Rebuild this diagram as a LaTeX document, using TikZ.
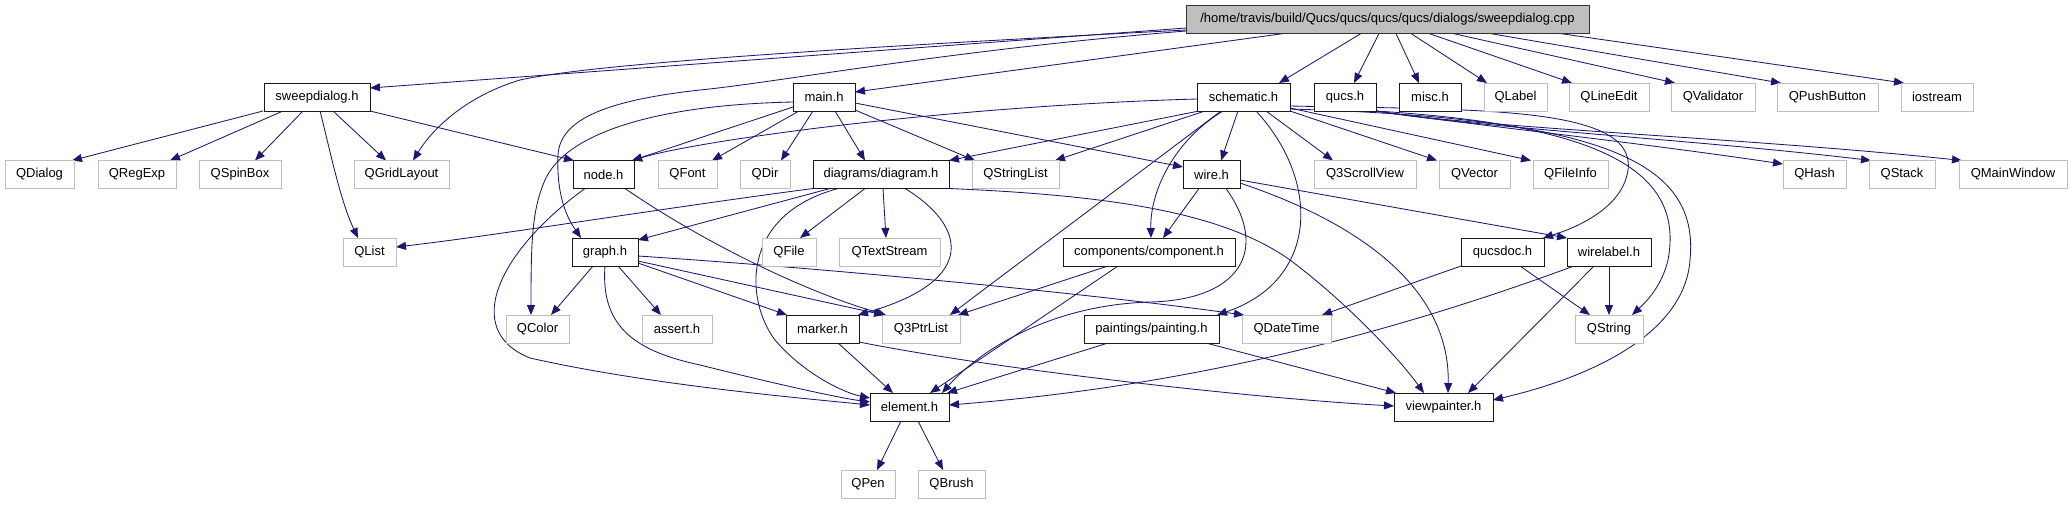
\documentclass[tikz,border=0pt]{standalone}
\usepackage{fontspec}
\setmainfont{Liberation Sans}
\usetikzlibrary{arrows.meta}
\definecolor{edgec}{HTML}{191970}
\definecolor{gborder}{HTML}{BFBFBF}
\definecolor{rootfill}{HTML}{BFBFBF}
\pgfdeclarelayer{bg}
\pgfsetlayers{bg,main}
\tikzset{
 box/.style={rectangle, inner sep=0pt, outer sep=0pt, minimum height=28pt, font=\fontsize{13}{15}\selectfont, text=black},
 hb/.style={box, draw=black!90, fill=white, line width=0.85pt},
 gb/.style={box, draw=gborder, fill=white, line width=0.95pt},
 rb/.style={box, draw=black!80, fill=rootfill, line width=0.85pt},
 e/.style={draw=edgec, line width=0.85pt, -{Triangle[length=10pt,width=8pt]}},
}
\begin{document}
\begin{tikzpicture}[x=1pt,y=-1pt]
\useasboundingbox (0,0) rectangle (2072,504);
% row 0
\node[rb, minimum width=403pt] (root) at (1387.5,19.5) {/home/travis/build/Qucs/qucs/qucs/qucs/dialogs/sweepdialog.cpp};
% row 1
\node[hb, minimum width=106pt] (sweep) at (317,97) {sweepdialog.h};
\node[hb, minimum width=62pt] (mainh) at (824,97) {main.h};
\node[hb, minimum width=93pt] (schem) at (1243.5,97) {schematic.h};
\node[hb, minimum width=62pt] (qucsh) at (1345,97) {qucs.h};
\node[hb, minimum width=62pt] (misch) at (1430,97) {misc.h};
\node[gb, minimum width=63pt] (QLabel) at (1515.5,97) {QLabel};
\node[gb, minimum width=80pt] (QLineEdit) at (1609,97) {QLineEdit};
\node[gb, minimum width=84pt] (QValidator) at (1713,97) {QValidator};
\node[gb, minimum width=101pt] (QPushButton) at (1827.5,97) {QPushButton};
\node[gb, minimum width=72pt] (iostream) at (1937,97) {iostream};
% row 2
\node[gb, minimum width=69pt] (QDialog) at (39.5,174.5) {QDialog};
\node[gb, minimum width=78pt] (QRegExp) at (137,174.5) {QRegExp};
\node[gb, minimum width=82pt] (QSpinBox) at (240,174.5) {QSpinBox};
\node[gb, minimum width=95pt] (QGridLayout) at (401.5,174.5) {QGridLayout};
\node[hb, minimum width=61pt] (nodeh) at (603.5,174.5) {node.h};
\node[gb, minimum width=59pt] (QFont) at (687.5,174.5) {QFont};
\node[gb, minimum width=50pt] (QDir) at (765,174.5) {QDir};
\node[hb, minimum width=136pt] (diagram) at (881,174.5) {diagrams/diagram.h};
\node[gb, minimum width=87pt] (QStringList) at (1015.5,174.5) {QStringList};
\node[hb, minimum width=57pt] (wireh) at (1211.5,174.5) {wire.h};
\node[gb, minimum width=102pt] (Q3ScrollView) at (1365,174.5) {Q3ScrollView};
\node[gb, minimum width=71pt] (QVector) at (1474.5,174.5) {QVector};
\node[gb, minimum width=75pt] (QFileInfo) at (1570.5,174.5) {QFileInfo};
\node[gb, minimum width=63pt] (QHash) at (1814.5,174.5) {QHash};
\node[gb, minimum width=66pt] (QStack) at (1902,174.5) {QStack};
\node[gb, minimum width=108pt] (QMainWindow) at (2013,174.5) {QMainWindow};
% row 3
\node[gb, minimum width=53pt] (QList) at (369.5,252) {QList};
\node[hb, minimum width=66pt] (graphh) at (605,252) {graph.h};
\node[gb, minimum width=54pt] (QFile) at (789,252) {QFile};
\node[gb, minimum width=101pt] (QTextStream) at (889.5,252) {QTextStream};
\node[hb, minimum width=172pt] (component) at (1149,252) {components/component.h};
\node[hb, minimum width=83pt] (qucsdoc) at (1502.5,252) {qucsdoc.h};
\node[hb, minimum width=84pt] (wirelabel) at (1609,252) {wirelabel.h};
% row 4
\node[gb, minimum width=63pt] (QColor) at (537.5,329) {QColor};
\node[gb, minimum width=70pt] (asserth) at (677,329) {assert.h};
\node[hb, minimum width=73pt] (markerh) at (822.5,329) {marker.h};
\node[gb, minimum width=78pt] (Q3PtrList) at (921,329) {Q3PtrList};
\node[hb, minimum width=135pt] (painting) at (1151.5,329) {paintings/painting.h};
\node[gb, minimum width=89pt] (QDateTime) at (1286.5,329) {QDateTime};
\node[gb, minimum width=68pt] (QString) at (1609,329) {QString};
% row 5
\node[hb, minimum width=79pt] (element) at (909.5,407) {element.h};
\node[hb, minimum width=99pt] (viewpainter) at (1443.5,407) {viewpainter.h};
% row 6
\node[gb, minimum width=54pt] (QPen) at (868,484) {QPen};
\node[gb, minimum width=67pt] (QBrush) at (951.5,484) {QBrush};

\begin{pgfonlayer}{bg}
% root
\draw[e] (root.west |- 0,28) -- (sweep.east |- 0,88);
\draw[e] (root.west |- 0,30) .. controls (900,45) and (600,62) .. (520,80) .. controls (470,95) and (435,125) .. (413,0 |- QGridLayout.north);
\draw[e] (1284,0 |- root.south) -- (mainh.east |- 0,92);
\draw[e] (root.west |- 0,31) .. controls (950,50) and (780,82) .. (700,90) .. controls (610,100) and (560,118) .. (558,155) .. controls (556,200) and (570,222) .. (581,0 |- graphh.north);
\draw[e] (1361,0 |- root.south) -- (1279,0 |- schem.north);
\draw[e] (1379,0 |- root.south) -- (1354,0 |- qucsh.north);
\draw[e] (1396,0 |- root.south) -- (1419,0 |- misch.north);
\draw[e] (1411,0 |- root.south) -- (1487,0 |- QLabel.north);
\draw[e] (1429,0 |- root.south) -- (1572,0 |- QLineEdit.north);
\draw[e] (1453,0 |- root.south) -- (1675,0 |- QValidator.north);
\draw[e] (1490,0 |- root.south) -- (1781,0 |- QPushButton.north);
\draw[e] (1560,0 |- root.south) -- (1904,0 |- iostream.north);
% sweepdialog.h
\draw[e] (263,0 |- sweep.south) -- (72,0 |- QDialog.north);
\draw[e] (283,0 |- sweep.south) -- (170,0 |- QRegExp.north);
\draw[e] (303,0 |- sweep.south) -- (255,0 |- QSpinBox.north);
\draw[e] (320,0 |- sweep.south) .. controls (330,150) and (340,200) .. (358,0 |- QList.north);
\draw[e] (333,0 |- sweep.south) -- (386,0 |- QGridLayout.north);
\draw[e] (370,0 |- sweep.south) -- (574,0 |- nodeh.north);
% main.h
\draw[e] (mainh.west |- 0,107) -- (632,0 |- nodeh.north);
\draw[e] (799,0 |- mainh.south) -- (712,0 |- QFont.north);
\draw[e] (813,0 |- mainh.south) -- (781,0 |- QDir.north);
\draw[e] (835,0 |- mainh.south) -- (865,0 |- diagram.north);
\draw[e] (mainh.east |- 0,110) -- (975,0 |- QStringList.north);
\draw[e] (mainh.east |- 0,103) -- (wireh.west |- 0,167);
\draw[e] (mainh.west |- 0,102) .. controls (650,105) and (565,135) .. (545,180) .. controls (532,210) and (531,240) .. (531,0 |- QColor.north);
% schematic.h
\draw[e] (schem.west |- 0,99) .. controls (950,106) and (700,140) .. (632,0 |- nodeh.north);
\draw[e] (1199,0 |- schem.south) -- (949,0 |- diagram.north);
\draw[e] (1205,0 |- schem.south) -- (1055,0 |- QStringList.north);
\draw[e] (1238,0 |- schem.south) -- (1221,0 |- wireh.north);
\draw[e] (1266,0 |- schem.south) -- (1333,0 |- Q3ScrollView.north);
\draw[e] (schem.south east) -- (1437,0 |- QVector.north);
\draw[e] (schem.east |- 0,108) -- (1531,0 |- QFileInfo.north);
\draw[e] (1223,0 |- schem.south) .. controls (1175,140) and (1150,190) .. (1151,0 |- component.north);
\draw[e] (1256,0 |- schem.south) .. controls (1320,180) and (1320,280) .. (1217,0 |- painting.north);
\draw[e] (1221,0 |- schem.south) -- (950,0 |- Q3PtrList.north);
\draw[e] (schem.east |- 0,106) .. controls (1480,110) and (1645,105) .. (1627,175) .. controls (1620,205) and (1585,225) .. (1543,0 |- qucsdoc.north);
\draw[e] (schem.east |- 0,109) .. controls (1600,118) and (1700,160) .. (1690,260) .. controls (1685,330) and (1600,375) .. (viewpainter.east |- 0,400);
% qucs.h
\draw[e] (qucsh.south east) .. controls (1600,125) and (1685,170) .. (1668,260) .. controls (1662,285) and (1648,300) .. (1632,0 |- QString.north);
\draw[e] (qucsh.south east) .. controls (1480,126) and (1620,140) .. (QHash.west |- 0,164);
\draw[e] (qucsh.south east) .. controls (1480,128) and (1700,140) .. (1871,0 |- QStack.north);
\draw[e] (qucsh.south east) .. controls (1480,128) and (1750,138) .. (1962,0 |- QMainWindow.north);
% wire.h
\draw[e] (1199,0 |- wireh.south) -- (1163,0 |- component.north);
\draw[e] (1226,0 |- wireh.south) .. controls (1270,250) and (1240,300) .. (1150,302) .. controls (1050,305) and (980,350) .. (942,0 |- element.north);
\draw[e] (wireh.east |- 0,183) .. controls (1380,230) and (1450,300) .. (1448,0 |- viewpainter.north);
\draw[e] (wireh.east |- 0,180) -- (wirelabel.north west);
% diagrams/diagram.h
\draw[e] (diagram.south west) .. controls (650,210) and (500,235) .. (QList.east |- 0,247);
\draw[e] (830,0 |- diagram.south) -- (graphh.east |- 0,240);
\draw[e] (865,0 |- diagram.south) -- (800,0 |- QFile.north);
\draw[e] (883,0 |- diagram.south) -- (886,0 |- QTextStream.north);
\draw[e] (905,0 |- diagram.south) .. controls (965,225) and (980,280) .. (858,0 |- markerh.north);
\draw[e] (838,0 |- diagram.south) .. controls (740,215) and (745,300) .. (775,340) .. controls (805,375) and (845,393) .. (element.west |- 0,398);
\draw[e] (diagram.south east) .. controls (1100,195) and (1220,210) .. (1290,260) .. controls (1350,305) and (1400,360) .. (1424,0 |- viewpainter.north);
% node.h
\draw[e] (625,0 |- nodeh.south) .. controls (700,240) and (800,290) .. (886,0 |- Q3PtrList.north);
\draw[e] (585,0 |- nodeh.south) .. controls (500,250) and (460,330) .. (530,358) .. controls (650,385) and (800,398) .. (element.west |- 0,405);
% graph.h
\draw[e] (593,0 |- graphh.south) -- (551,0 |- QColor.north);
\draw[e] (618,0 |- graphh.south) -- (661,0 |- asserth.north);
\draw[e] (graphh.east |- 0,263) -- (787,0 |- markerh.north);
\draw[e] (graphh.east |- 0,261) -- (884,0 |- Q3PtrList.north);
\draw[e] (605,0 |- graphh.south) .. controls (600,330) and (640,352) .. (700,365) .. controls (780,385) and (840,398) .. (element.west |- 0,402);
\draw[e] (graphh.east |- 0,256) .. controls (850,270) and (1100,295) .. (1244,0 |- QDateTime.north);
% marker.h
\draw[e] (838,0 |- markerh.south) -- (893,0 |- element.north);
\draw[e] (markerh.east |- 0,342) .. controls (1000,370) and (1250,398) .. (viewpainter.west |- 0,406);
% component.h
\draw[e] (1108,0 |- component.south) -- (958,0 |- Q3PtrList.north);
\draw[e] (1118,0 |- component.south) -- (930,0 |- element.north);
% painting.h
\draw[e] (1108,0 |- painting.south) -- (947,0 |- element.north);
\draw[e] (1206,0 |- painting.south) -- (1396,0 |- viewpainter.north);
% wirelabel.h
\draw[e] (1574,0 |- wirelabel.south) .. controls (1400,330) and (1200,385) .. (element.east |- 0,405);
\draw[e] (1594,0 |- wirelabel.south) -- (1468,0 |- viewpainter.north);
\draw[e] (wirelabel.south) -- (QString.north);
% qucsdoc.h
\draw[e] (qucsdoc.south west) -- (1322,0 |- QDateTime.north);
\draw[e] (1520,0 |- qucsdoc.south) -- (1590,0 |- QString.north);
% element.h
\draw[e] (901,0 |- element.south) -- (877,0 |- QPen.north);
\draw[e] (918,0 |- element.south) -- (943,0 |- QBrush.north);
\end{pgfonlayer}
\end{tikzpicture}
\end{document}
